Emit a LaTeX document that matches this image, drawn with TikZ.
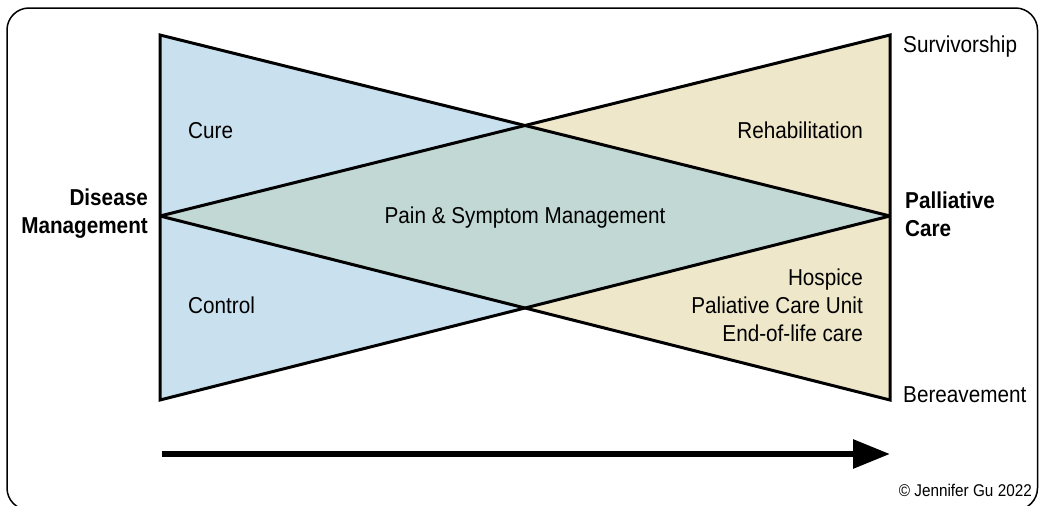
\documentclass[tikz,border=0pt]{standalone}
\usepackage{fontspec}
\setmainfont{Liberation Sans}[FakeStretch=0.9]
\usetikzlibrary{arrows.meta}
\definecolor{cureblue}{RGB}{201,225,238}
\definecolor{palltan}{RGB}{239,231,202}
\definecolor{overlapgreen}{RGB}{193,216,213}

\begin{document}
\begin{tikzpicture}[x=1pt, y=-1pt,
    every node/.style={font=\fontsize{23}{28}\selectfont, inner sep=0pt},
    endlabel/.style={font=\fontsize{23}{28}\selectfont\bfseries, align=#1}]
        \useasboundingbox (0,0) rectangle (1039,506);

        % Frame
        \draw[line width=1.5pt, rounded corners=22pt] (7,8) rectangle (1037.5,510);

        % Corners of the two triangles
        \coordinate (dm-top) at (160,35);
        \coordinate (dm-bot) at (160,400);
        \coordinate (dm-mid) at (160,216);
        \coordinate (pc-top) at (890,35);
        \coordinate (pc-bot) at (890,400);
        \coordinate (pc-mid) at (890,216);
        \coordinate (x-top) at (intersection of dm-top--pc-mid and pc-top--dm-mid);
        \coordinate (x-bot) at (intersection of dm-bot--pc-mid and pc-bot--dm-mid);

        % Fills
        \fill[cureblue] (dm-top) -- (dm-bot) -- (pc-mid) -- cycle;
        \fill[palltan] (pc-top) -- (pc-bot) -- (dm-mid) -- cycle;
        \fill[overlapgreen] (dm-mid) -- (x-top) -- (pc-mid) -- (x-bot) -- cycle;

        % Outlines
        \draw[line width=3pt, miter limit=2] (dm-top) -- (dm-bot) -- (pc-mid) -- cycle;
        \draw[line width=3pt, miter limit=2] (pc-top) -- (pc-bot) -- (dm-mid) -- cycle;

        % Time arrow
        \coordinate (arr-start) at (162,454);
        \coordinate (arr-end) at (890,454);
        \draw[line width=6pt, -{Triangle[length=37pt, width=28pt]}] (arr-start) -- (arr-end);

        % Labels
        \node[anchor=base west] (cure) at (188,138) {Cure};
        \node[anchor=base west] (control) at (188,313) {Control};
        \node[anchor=base] (pain) at (525,223) {Pain \& Symptom Management};
        \node[anchor=base east] (rehab) at (863,138) {Rehabilitation};
        \node[anchor=east, align=right] (hospice) at (863,305) {Hospice\\Paliative Care Unit\\End-of-life care};
        \node[anchor=base west] (surv) at (903,52) {Survivorship};
        \node[anchor=base west] (berea) at (903,402) {Bereavement};
        \node[endlabel=right, anchor=east] (dm) at (148,214) {Disease\\Management};
        \node[endlabel=left, anchor=west] (pc) at (905,214) {Palliative\\Care};
        \node[anchor=base east, font=\fontsize{17}{20}\selectfont] (copy) at (1032,496) {© Jennifer Gu 2022};
    \end{tikzpicture}
\end{document}
